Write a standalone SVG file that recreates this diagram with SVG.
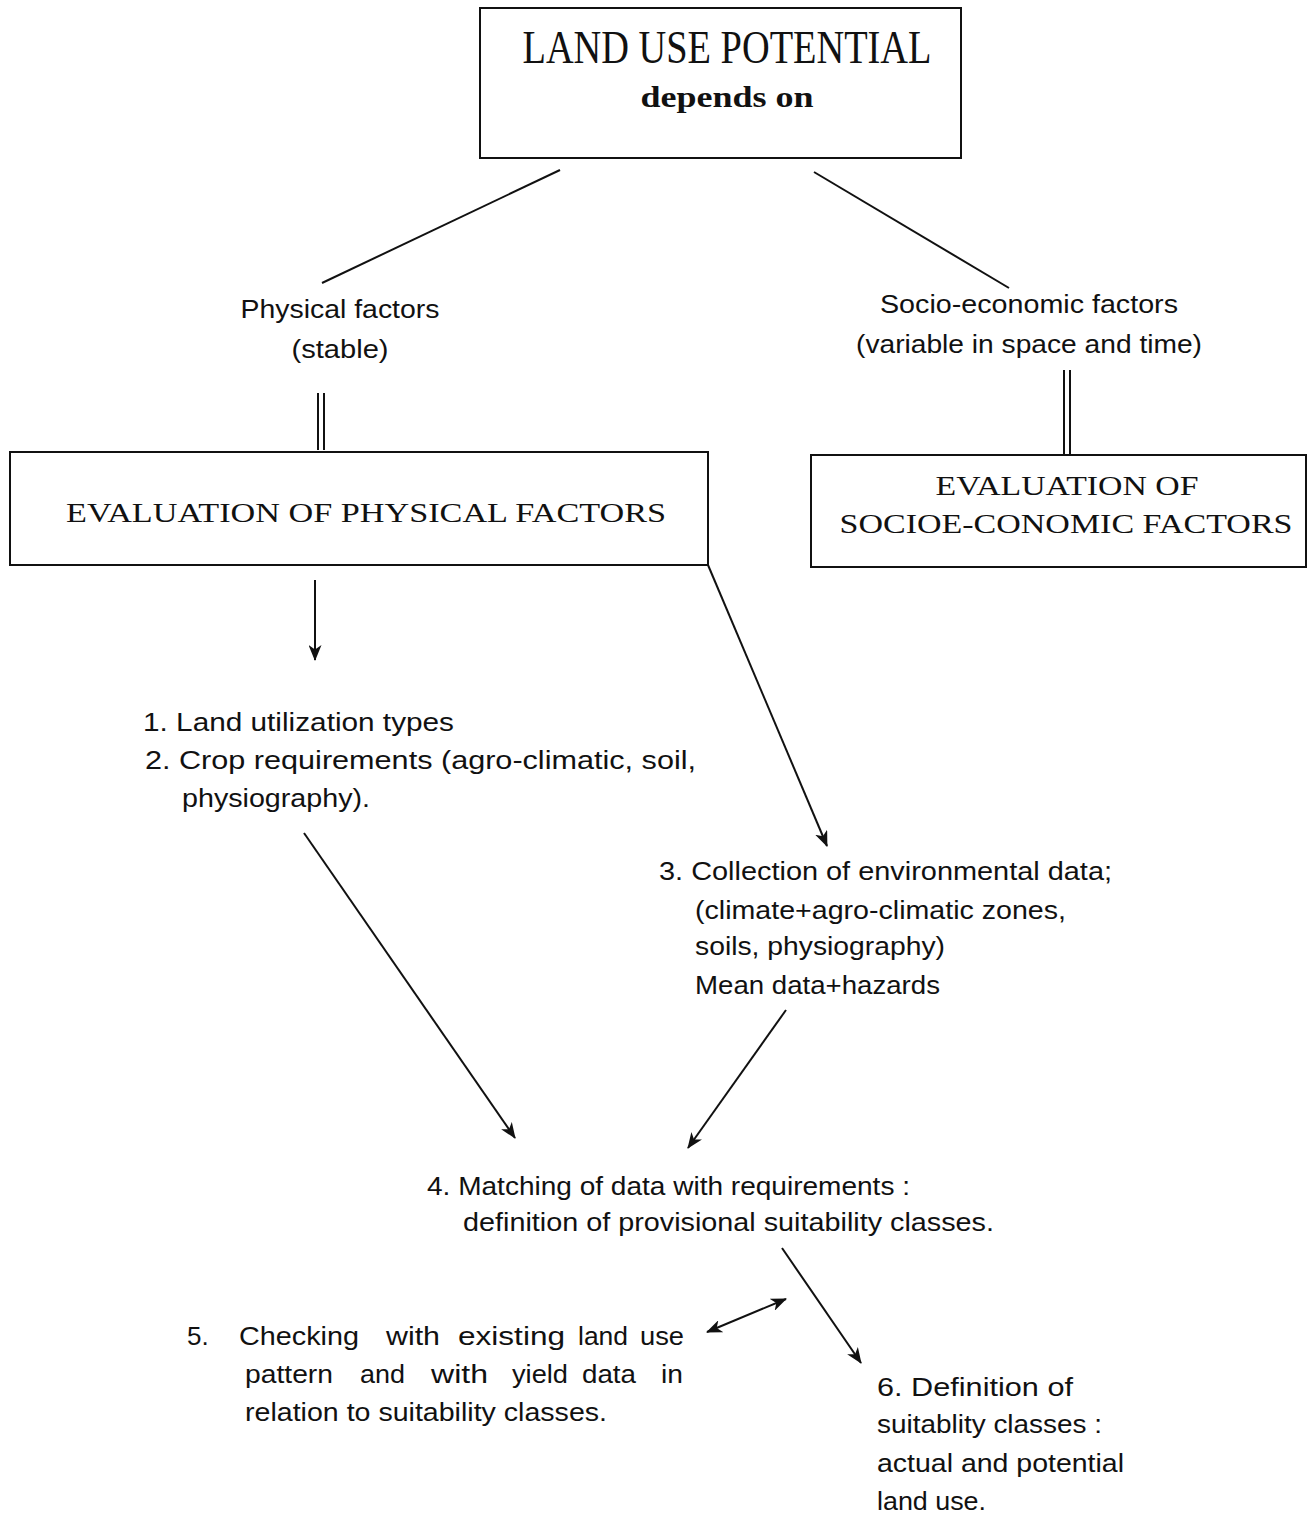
<svg xmlns="http://www.w3.org/2000/svg" width="1309" height="1515" viewBox="0 0 1309 1515">
<style>
.box{fill:#fff;stroke:#111;stroke-width:2}
.hd{font-family:"Liberation Serif","Times New Roman",serif;fill:#111}
.tx{font-family:"Liberation Sans",Arial,sans-serif;font-size:26px;fill:#111}
.ln{stroke:#111;stroke-width:2;fill:none}
.ar{stroke:#111;stroke-width:2;fill:none;marker-end:url(#ah)}
</style>
<defs>
<marker id="ah" viewBox="0 0 16 13" refX="15" refY="6.5" markerWidth="16" markerHeight="13" markerUnits="userSpaceOnUse" orient="auto-start-reverse">
<path d="M0,0 L16,6.5 L0,13 L4.5,6.5 z" fill="#111"/>
</marker>
</defs>
<rect width="1309" height="1515" fill="#fff"/>

<g id="top">
<rect class="box" x="480" y="8" width="481" height="150"/>
<text class="hd" x="727" y="63" font-size="46" text-anchor="middle" textLength="409" lengthAdjust="spacingAndGlyphs">LAND USE POTENTIAL</text>
<text class="hd" x="727" y="107" font-size="30" font-weight="bold" text-anchor="middle" textLength="173" lengthAdjust="spacingAndGlyphs">depends on</text>
</g>

<g id="physical">
<text class="tx" x="340" y="318" text-anchor="middle" textLength="199" lengthAdjust="spacingAndGlyphs">Physical factors</text>
<text class="tx" x="340" y="358" text-anchor="middle" textLength="97" lengthAdjust="spacingAndGlyphs">(stable)</text>
</g>

<g id="socio">
<text class="tx" x="1029" y="313" text-anchor="middle" textLength="298" lengthAdjust="spacingAndGlyphs">Socio-economic factors</text>
<text class="tx" x="1029" y="353" text-anchor="middle" textLength="346" lengthAdjust="spacingAndGlyphs">(variable in space and time)</text>
</g>

<g id="evalPhys">
<rect class="box" x="10" y="452" width="698" height="113"/>
<text class="hd" x="366" y="522" font-size="27" text-anchor="middle" textLength="600" lengthAdjust="spacingAndGlyphs">EVALUATION OF PHYSICAL FACTORS</text>
</g>

<g id="evalSocio">
<rect class="box" x="811" y="455" width="495" height="112"/>
<text class="hd" x="1067" y="495" font-size="27" text-anchor="middle" textLength="263" lengthAdjust="spacingAndGlyphs">EVALUATION OF</text>
<text class="hd" x="1066" y="533" font-size="27" text-anchor="middle" textLength="453" lengthAdjust="spacingAndGlyphs">SOCIOE-CONOMIC FACTORS</text>
</g>

<g id="step12">
<text class="tx" x="143" y="731" textLength="311" lengthAdjust="spacingAndGlyphs">1. Land utilization types</text>
<text class="tx" x="145" y="769" textLength="551" lengthAdjust="spacingAndGlyphs">2. Crop requirements (agro-climatic, soil,</text>
<text class="tx" x="182" y="807" textLength="188" lengthAdjust="spacingAndGlyphs">physiography).</text>
</g>

<g id="step3">
<text class="tx" x="659" y="880" textLength="453" lengthAdjust="spacingAndGlyphs">3. Collection of environmental data;</text>
<text class="tx" x="695" y="919" textLength="371" lengthAdjust="spacingAndGlyphs">(climate+agro-climatic zones,</text>
<text class="tx" x="695" y="955" textLength="250" lengthAdjust="spacingAndGlyphs">soils, physiography)</text>
<text class="tx" x="695" y="994" textLength="245" lengthAdjust="spacingAndGlyphs">Mean data+hazards</text>
</g>

<g id="step4">
<text class="tx" x="427" y="1195" textLength="483" lengthAdjust="spacingAndGlyphs">4. Matching of data with requirements :</text>
<text class="tx" x="463" y="1231" textLength="531" lengthAdjust="spacingAndGlyphs">definition of provisional suitability classes.</text>
</g>

<g id="step5">
<text class="tx" x="187" y="1345">5.</text>
<text class="tx" x="239" y="1345" textLength="120" lengthAdjust="spacingAndGlyphs">Checking</text>
<text class="tx" x="386" y="1345" textLength="54" lengthAdjust="spacingAndGlyphs">with</text>
<text class="tx" x="458" y="1345" textLength="107" lengthAdjust="spacingAndGlyphs">existing</text>
<text class="tx" x="578" y="1345" textLength="50" lengthAdjust="spacingAndGlyphs">land</text>
<text class="tx" x="640" y="1345" textLength="44" lengthAdjust="spacingAndGlyphs">use</text>
<text class="tx" x="245" y="1383" textLength="88" lengthAdjust="spacingAndGlyphs">pattern</text>
<text class="tx" x="360" y="1383" textLength="45" lengthAdjust="spacingAndGlyphs">and</text>
<text class="tx" x="431" y="1383" textLength="57" lengthAdjust="spacingAndGlyphs">with</text>
<text class="tx" x="512" y="1383" textLength="56" lengthAdjust="spacingAndGlyphs">yield</text>
<text class="tx" x="582" y="1383" textLength="54" lengthAdjust="spacingAndGlyphs">data</text>
<text class="tx" x="661" y="1383" textLength="22" lengthAdjust="spacingAndGlyphs">in</text>
<text class="tx" x="245" y="1421" textLength="362" lengthAdjust="spacingAndGlyphs">relation to suitability classes.</text>
</g>

<g id="step6">
<text class="tx" x="877" y="1396" textLength="196" lengthAdjust="spacingAndGlyphs">6. Definition of</text>
<text class="tx" x="877" y="1433" textLength="225" lengthAdjust="spacingAndGlyphs">suitablity classes :</text>
<text class="tx" x="877" y="1472" textLength="247" lengthAdjust="spacingAndGlyphs">actual and potential</text>
<text class="tx" x="877" y="1510" textLength="109" lengthAdjust="spacingAndGlyphs">land use.</text>
</g>

<g id="connectors">
<line class="ln" x1="560" y1="170" x2="322" y2="283"/>
<line class="ln" x1="814" y1="172" x2="1009" y2="288"/>
<line class="ln" x1="318" y1="393" x2="318" y2="450"/>
<line class="ln" x1="324" y1="393" x2="324" y2="450"/>
<line class="ln" x1="1064" y1="370" x2="1064" y2="455"/>
<line class="ln" x1="1070" y1="370" x2="1070" y2="455"/>
<line class="ar" x1="315" y1="580" x2="315" y2="660"/>
<line class="ar" x1="708" y1="565" x2="827" y2="846"/>
<line class="ar" x1="304" y1="833" x2="515" y2="1138"/>
<line class="ar" x1="786" y1="1010" x2="688" y2="1148"/>
<line class="ar" x1="782" y1="1248" x2="861" y2="1363"/>
<line class="ar" style="marker-start:url(#ah)" x1="707" y1="1332" x2="786" y2="1299"/>
</g>
</svg>
